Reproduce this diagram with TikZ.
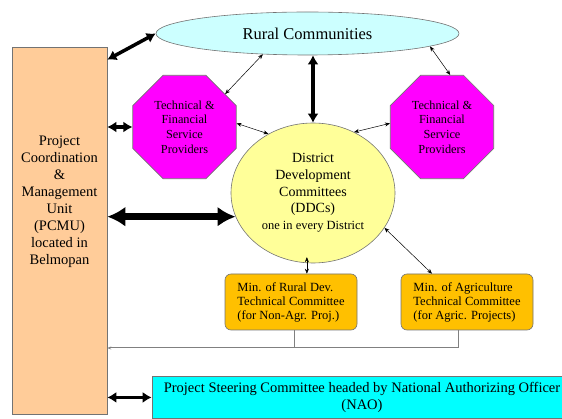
\documentclass[tikz,border=0pt]{standalone}
\usepackage{fontspec}
\setmainfont{Liberation Serif}
\newfontfamily\timesfont{Liberation Serif}
\usepackage{xcolor}
\usepackage{tikz}
\usetikzlibrary{shapes.geometric,arrows.meta}
\definecolor{pcmupeach}{HTML}{FFCC99}
\definecolor{ruralcyan}{HTML}{CCFFFF}
\definecolor{tfsmagenta}{HTML}{FF00FF}
\definecolor{ddcyellow}{HTML}{FFFF99}
\definecolor{minamber}{HTML}{FFC000}
\definecolor{steercyan}{HTML}{00FFFF}

\begin{document}
\begin{tikzpicture}[x=1pt,y=-1pt,
    main node/.style={draw=black!55,line width=0.6pt,align=center,inner sep=0pt},
    octa node/.style={main node,regular polygon,regular polygon sides=8,minimum size=112pt,fill=tfsmagenta,font=\timesfont\fontsize{12.3}{14.7}\selectfont},
    min node/.style={main node,rounded corners=6pt,fill=minamber,minimum width=132pt,minimum height=56pt,align=left,font=\timesfont\fontsize{12.5}{14}\selectfont},
    big arrow/.style={line width=3.5pt,{Latex[length=9pt,width=11pt]}-{Latex[length=9pt,width=11pt]}},
    huge arrow/.style={line width=7pt,{Latex[length=18pt,width=20pt]}-{Latex[length=18pt,width=20pt]}},
    thin arrow/.style={line width=0.5pt,{Stealth[length=5pt,width=4pt]}-{Stealth[length=5pt,width=4pt]}}]
        \tikzset{feedback/.style={draw=black!50,line width=1pt}}
        \useasboundingbox (0,0) rectangle (562,419);
        \node[main node,fill=pcmupeach,minimum width=95pt,minimum height=367pt] (pcmu) at (59.5,230.5) {};
        \node[align=center,font=\timesfont\fontsize{14.5}{17}\selectfont] (pcmutext) at (59.5,202) {Project\\Coordination\\\&\\Management\\Unit\\(PCMU)\\located in\\Belmopan};
        \node[main node,ellipse,fill=ruralcyan,minimum width=303pt,minimum height=43pt,font=\timesfont\fontsize{16.5}{19}\selectfont] (rural) at (307.5,33.5) {Rural Communities};
        \node[octa node] (tfsleft) at (184.5,127) {Technical \&\\Financial\\Service\\Providers};
        \node[octa node] (tfsright) at (442,127) {Technical \&\\Financial\\Service\\Providers};
        \node[main node,ellipse,fill=ddcyellow,minimum width=164pt,minimum height=140pt,font=\timesfont\fontsize{14}{16.7}\selectfont] (ddc) at (313,193) {District\\Development\\Committees\\(DDCs)\\{\fontsize{12.5}{16.7}\selectfont one in every District}};
        \node[min node] (minrural) at (291,302) {Min. of Rural Dev.\\Technical Committee\\(for Non-Agr. Proj.)};
        \node[min node] (minagri) at (467,302) {Min. of Agriculture\\Technical Committee\\(for Agric. Projects)};
        \node[main node,fill=steercyan,anchor=north,minimum width=420pt,inner ysep=6pt,font=\timesfont\fontsize{14.5}{17}\selectfont] (steer) at (362,376) {Project Steering Committee headed by National Authorizing Officer\\(NAO)};
        \coordinate (fbrow) at (0,348);
        \path
            ([yshift=-13pt]pcmu.north east) edge[big arrow] (rural.west)
            (pcmu.east |- tfsleft.west) edge[big arrow] (tfsleft.west)
            (pcmu.east |- ddc.197) edge[huge arrow] (ddc.197)
            (ddc.north |- rural.south) edge[big arrow] (ddc.north)
            (pcmu.east |- steer.west) edge[big arrow] (steer.west);
        \path[thin arrow]
            (rural.205) edge (tfsleft.39)
            (rural.354) edge (tfsright.81)
            (tfsleft.4) edge (ddc.127)
            (tfsright.176) edge (ddc.56)
            ([yshift=6pt]ddc.265) edge (ddc.265 |- minrural.north)
            (ddc.334) edge ([xshift=-35pt]minagri.north);
        \draw[feedback] ([xshift=3pt]minrural.south) -- ([xshift=3pt]minrural.south |- fbrow);
        \draw[feedback,-{Stealth[length=4pt,width=3pt]}] ([xshift=-9pt]minagri.south) |- (pcmu.east |- fbrow);
    \end{tikzpicture}
\end{document}
